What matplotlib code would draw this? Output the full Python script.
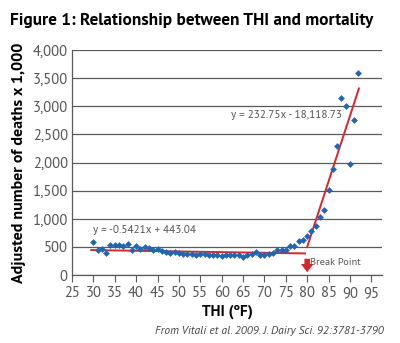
import matplotlib
matplotlib.use("Agg")
import matplotlib.pyplot as plt
from matplotlib.ticker import FuncFormatter

thi = list(range(30, 93))
deaths = [580, 450, 470, 385, 535, 535, 530, 520, 550, 445,
          525, 460, 505, 490, 450, 460, 420, 410, 400, 405,
          390, 370, 375, 375, 360, 370, 370, 350, 365, 355,
          345, 360, 355, 350, 360, 330, 355, 370, 410, 360,
          360, 370, 385, 445, 445, 445, 520, 520, 600, 630,
          690, 790, 875, 1035, 1155, 1510, 1885, 2300, 3140, 3000,
          1970, 2755, 3595]

low_fit_x = [29.5, 79.5]
low_fit_y = [445, 385]
high_fit_x = [80, 92.1]
high_fit_slope = 232.75
high_fit_icpt = -18118.73
high_fit_y = [high_fit_slope * x + high_fit_icpt for x in high_fit_x]

eq_low = "y = -0.5421x + 443.04"
eq_high = "y = 232.75x - 18,118.73"
break_x = 80

xticks = list(range(25, 100, 5))
yticks = list(range(0, 4001, 500))

FONT = "PT Sans"

fig = plt.figure(figsize=(4.0, 3.43), dpi=100)
ax = fig.add_axes([0.18, 0.198, 0.775, 0.656])

blue = "#2266b0"
red = "#d7262c"
grid_c = "#5a5a5a"

ax.set_xlim(25, 97.5)
ax.set_ylim(0, 4000)
ax.set_yticks(yticks)
ax.set_xticks(xticks)
ax.yaxis.set_major_formatter(FuncFormatter(lambda v, p: f"{int(v):,}"))
ax.grid(axis="y", color=grid_c, linewidth=0.9, zorder=0)
ax.set_axisbelow(True)
for s in ["top", "right"]:
    ax.spines[s].set_visible(False)
ax.spines["left"].set_color(grid_c)
ax.spines["bottom"].set_color(grid_c)
ax.spines["left"].set_linewidth(0.9)
ax.spines["bottom"].set_linewidth(0.9)
ax.tick_params(axis="y", length=0, pad=3, labelsize=10.5, labelcolor="#555555")
ax.tick_params(axis="x", length=5, width=0.8, color=grid_c, pad=3, labelsize=10.5, labelcolor="#555555")
for lab in ax.get_xticklabels() + ax.get_yticklabels():
    lab.set_family(FONT)

ax.plot(low_fit_x, low_fit_y, color=red, linewidth=1.4, zorder=2)
ax.plot(high_fit_x, high_fit_y, color=red, linewidth=1.4, zorder=2)
ax.scatter(thi, deaths, marker="D", s=12, color=blue, zorder=3, linewidths=0)

ax.text(30, 800, eq_low, fontsize=8, color="#555555", family=FONT,
        ha="left", va="center")
ax.text(62.3, 2850, eq_high, fontsize=8, color="#555555", family=FONT,
        ha="left", va="center")

ax.annotate("", xy=(break_x, 0), xytext=(break_x, 340),
            arrowprops=dict(arrowstyle="simple,head_width=0.9,head_length=0.6,tail_width=0.4",
                            color=red, lw=0), annotation_clip=False)
ax.text(break_x + 0.7, 230, "Break Point", fontsize=7.5, color="#555555",
        family=FONT, ha="left", va="center")

ax.set_xlabel("THI (ºF)", fontsize=11, fontweight="bold", family=FONT, labelpad=3)
ax.set_ylabel("Adjusted number of deaths x 1,000", fontsize=11.5, fontweight="bold",
              family=FONT, labelpad=5)

fig.text(0.025, 0.94, "Figure 1: Relationship between THI and mortality", fontsize=12.4,
         fontweight="bold", family=FONT, ha="left", va="center")
fig.text(0.96, 0.035, "From Vitali et al. 2009. J. Dairy Sci. 92:3781-3790", fontsize=8.3,
         style="italic", family=FONT, color="#444444", ha="right", va="center")

fig.savefig("out.png", dpi=100)
